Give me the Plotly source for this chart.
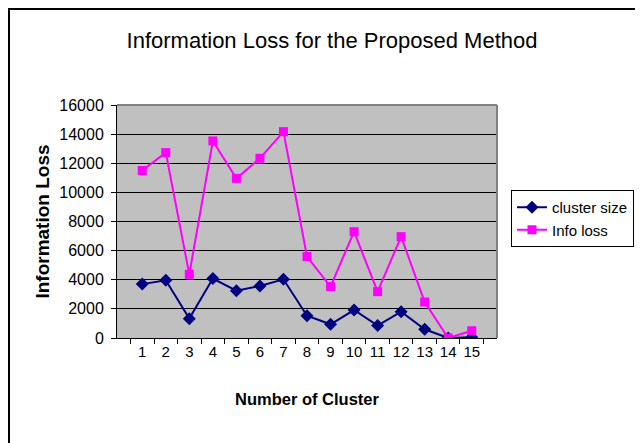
import plotly.graph_objects as go

clusters = [str(i) for i in range(1, 16)]
cluster_size = [3700, 3960, 1330, 4080, 3250, 3570, 4030, 1530, 940, 1920, 850, 1810, 600, 0, 50]
info_loss = [11500, 12730, 4370, 13530, 10960, 12340, 14170, 5590, 3530, 7300, 3180, 6960, 2470, 0, 500]
y_ticks = [0, 2000, 4000, 6000, 8000, 10000, 12000, 14000, 16000]
y_tick_text = [str(v) for v in y_ticks]

FONT = "Liberation Sans, Arial, sans-serif"

fig = go.Figure()
fig.add_trace(go.Scatter(
    x=clusters, y=cluster_size, name="cluster size", mode="lines+markers",
    line=dict(color="#000080", width=2),
    marker=dict(symbol="diamond", size=10, color="#000080"),
))
fig.add_trace(go.Scatter(
    x=clusters, y=info_loss, name="Info loss", mode="lines+markers",
    line=dict(color="#FF00FF", width=2),
    marker=dict(symbol="square", size=9, color="#FF00FF"),
))

OFF = 8  # page body offset
W, H = 635, 435
L, T = 117 - OFF, 105 - OFF
Rpx, Bpx = 497 - OFF, 338 - OFF
R, B = W - Rpx, H - Bpx
pw = Rpx - L
ph = Bpx - T

def px_x(p):
    return (p - OFF - L) / pw

def px_y(p):
    return (Bpx - (p - OFF)) / ph

fig.update_layout(
    width=W, height=H,
    margin=dict(l=L, r=R, t=T, b=B, autoexpand=False),
    paper_bgcolor="white",
    plot_bgcolor="#C0C0C0",
    font=dict(family=FONT, size=14, color="black"),
    title=dict(text="Information Loss for the Proposed Method",
               xref="container", x=(332 - OFF) / W, xanchor="center",
               yref="container", y=1 - (40 - OFF) / H, yanchor="middle",
               font=dict(size=22, family=FONT)),
    showlegend=True,
    legend=dict(x=px_x(511), y=px_y(190), xanchor="left", yanchor="top",
                bordercolor="black", borderwidth=1, bgcolor="white",
                font=dict(size=15), itemwidth=30, tracegroupgap=4),
    xaxis=dict(type="category", tickson="boundaries", ticks="outside", ticklen=5,
               tickcolor="black", showline=True, linecolor="black", linewidth=1,
               mirror=False, showgrid=False, zeroline=False, tickangle=0,
               tickfont=dict(size=15),
               title=dict(text="<b>Number of Cluster</b>", font=dict(size=16.5), standoff=34)),
    yaxis=dict(range=[0, 16000], tickvals=y_ticks, ticktext=y_tick_text,
               ticks="outside", ticklen=5,
               tickcolor="black", showline=True, linecolor="black", linewidth=1,
               showgrid=True, gridcolor="black", gridwidth=1, zeroline=False,
               tickfont=dict(size=16), ticklabelstandoff=4,
               title=dict(text="<b>Information Loss</b>", font=dict(size=19), standoff=4)),
    shapes=[
        dict(type="line", xref="paper", yref="paper", x0=0, x1=1, y0=1, y1=1,
             line=dict(color="#808080", width=2)),
        dict(type="line", xref="paper", yref="paper", x0=1, x1=1, y0=0, y1=1,
             line=dict(color="#808080", width=2)),
        dict(type="rect", xref="paper", yref="paper",
             x0=px_x(9), x1=px_x(700), y0=px_y(9), y1=px_y(500),
             line=dict(color="black", width=2), layer="below"),
    ],
)

fig.write_html("out.html")
